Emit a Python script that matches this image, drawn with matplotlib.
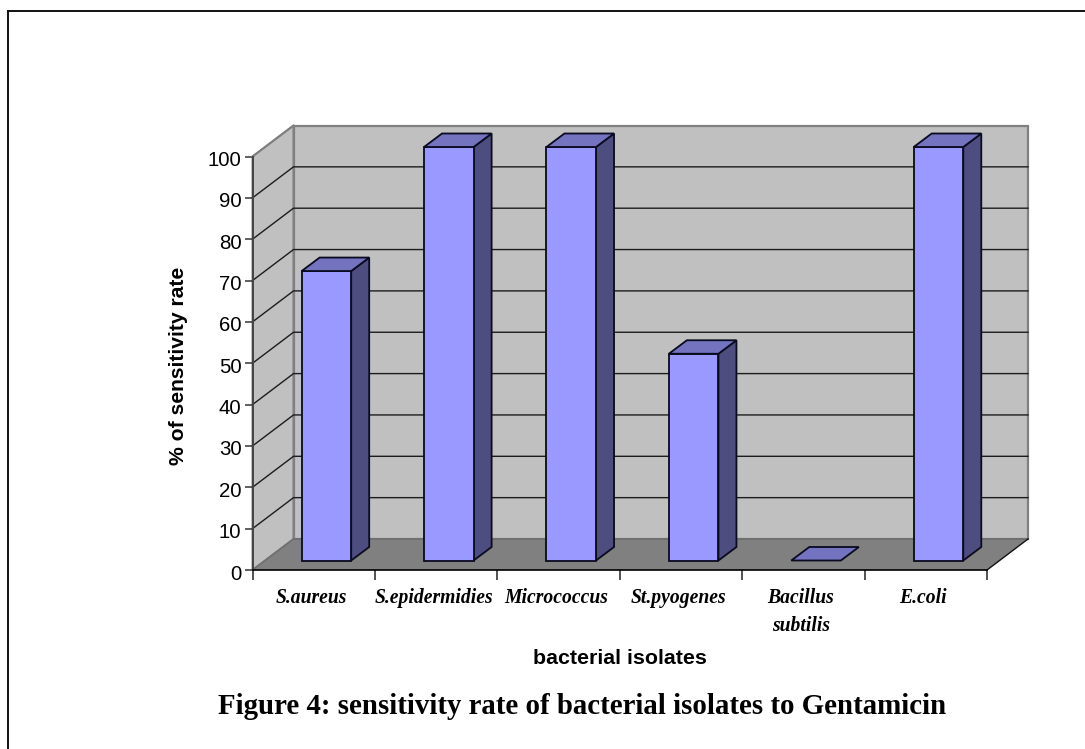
import matplotlib
matplotlib.use("Agg")
import matplotlib.pyplot as plt
from matplotlib.patches import Polygon
from matplotlib.transforms import Affine2D

categories = ["S.aureus", "S.epidermidies", "Micrococcus", "St.pyogenes", "Bacillus\nsubtilis", "E.coli"]
values = [70, 100, 100, 50, 0, 100]
y_ticks = list(range(0, 101, 10))

W, H = 1085, 749
fig = plt.figure(figsize=(W / 100, H / 100), dpi=100, facecolor="white")

# full-figure layer for the frame and figure caption
bg = fig.add_axes([0, 0, 1, 1])
bg.set_xlim(0, W)
bg.set_ylim(H, 0)
bg.axis("off")
bg.plot([8, 8], [H, 11], color="#111111", lw=1.4, solid_capstyle="projecting")
bg.plot([8, W], [11, 11], color="#111111", lw=1.4, solid_capstyle="projecting")
bg.text(582, 707, "Figure 4: sensitivity rate of bacterial isolates to Gentamicin",
        family="Liberation Serif", weight="bold", fontsize=20.8, ha="center", va="center", color="black")

# front plane of the 3-D box
L, R, T, B = 252.5, 987, 156.5, 570
ax = fig.add_axes([L / W, 1 - B / H, (R - L) / W, (B - T) / H], facecolor="none")
n = len(categories)
ax.set_xlim(0, n)
ax.set_ylim(0, 100)
for s in ax.spines.values():
    s.set_visible(False)

DX, DY = 41, 31          # box depth
BX, BY = 12.7, 9.5       # bar offset from front plane
SX, SY = 18, 13.5        # bar depth
BW = 0.405               # bar width in category units

wall = "#c0c0c0"
edge = "#808080"
side = [[0, 0, 0], [0, 100, 0], [0, 100, 1], [0, 0, 1]]


def pts(corners):
    """corners: (x, y, depth fraction) to display coordinates"""
    out = []
    for x, y, d in corners:
        px, py = ax.transData.transform((x, y))
        out.append((px + DX * d, py + DY * d))
    return out


def poly(corners, **kw):
    p = Polygon(pts(corners), closed=True, transform=None, clip_on=False, **kw)
    ax.add_patch(p)
    return p


poly(side, facecolor=wall, edgecolor=edge, lw=1.4, zorder=1)
poly([[0, 0, 1], [0, 100, 1], [n, 100, 1], [n, 0, 1]], facecolor=wall, edgecolor=edge, lw=1.6, zorder=1)
poly([[0, 0, 0], [n, 0, 0], [n, 0, 1], [0, 0, 1]], facecolor="#808080", edgecolor="none", zorder=2)

# gridlines on both walls
for v in y_ticks[1:-1]:
    ax.plot(*zip(*pts([[0, v, 0], [0, v, 1], [n, v, 1]])), transform=None, color="#1c1c1c",
            lw=1.0, clip_on=False, zorder=3, solid_joinstyle="miter")
# back edge of floor, outer edges
ax.plot(*zip(*pts([[0, 0, 0], [0, 0, 1]])), transform=None, color="#707070", lw=1.2, clip_on=False, zorder=3)
ax.plot(*zip(*pts([[0, 0, 1], [n, 0, 1]])), transform=None, color="#707070", lw=1.4, clip_on=False, zorder=3)
ax.plot(*zip(*pts([[n, 0, 0], [n, 0, 1]])), transform=None, color="#111111", lw=1.0, clip_on=False, zorder=3)
ax.plot(*zip(*pts([[0, 100, 0], [0, 100, 1]])), transform=None, color="#808080", lw=1.4, clip_on=False, zorder=3)

# bars
front_c, side_c, top_c = "#9999ff", "#4d4d80", "#7373bf"
for i, v in enumerate(values):
    x0, x1 = i + 0.5 - BW / 2, i + 0.5 + BW / 2
    a, b = ax.transData.transform((x0, 0)), ax.transData.transform((x1, v))
    xl, xr = a[0] + BX, b[0] + BX
    yb, yt = a[1] + BY, b[1] + BY
    style = dict(edgecolor="#0a0a20", lw=1.3, transform=None, clip_on=False, zorder=5 + i, joinstyle="miter")
    if v > 0:
        ax.add_patch(Polygon([(xr, yb), (xr + SX, yb + SY), (xr + SX, yt + SY), (xr, yt)], facecolor=side_c, **style))
        ax.add_patch(Polygon([(xl, yb), (xr, yb), (xr, yt), (xl, yt)], facecolor=front_c, **style))
    ax.add_patch(Polygon([(xl, yt), (xr, yt), (xr + SX, yt + SY), (xl + SX, yt + SY)], facecolor=top_c, **style))

# axes lines and ticks
ax.spines["left"].set_visible(True)
ax.spines["bottom"].set_visible(True)
ax.spines["left"].set_color("#444444")
ax.spines["left"].set_linewidth(1.4)
ax.spines["bottom"].set_color("#000000")
ax.spines["bottom"].set_linewidth(1.2)
ax.spines["left"].set_zorder(20)
ax.spines["bottom"].set_zorder(20)
ax.set_yticks(y_ticks)
ax.set_yticklabels([str(v) for v in y_ticks], family="Liberation Sans", fontsize=14.7)
ax.tick_params(axis="y", length=5.5, width=1.2, color="#444444", pad=2.5)
for lab in ax.get_yticklabels():
    lab.set_transform(lab.get_transform() + Affine2D().translate(0, -2))
ax.set_xticks(range(n + 1))
ax.set_xticklabels([""] * (n + 1))
ax.tick_params(axis="x", length=7, width=1.1, color="#222222")

ax.set_xticks([i + 0.5 - 0.02 for i in range(n)], minor=True)
ax.set_xticklabels(categories, minor=True, family="Liberation Serif", style="italic", weight="bold",
                   fontsize=14.1, linespacing=1.5, va="top")
ax.tick_params(axis="x", which="minor", length=0, pad=13)

bg.text(620, 658, "bacterial isolates", family="Liberation Sans", weight="bold", fontsize=15.4,
        ha="center", va="center")
bg.text(178, 366, "% of sensitivity rate", family="Liberation Sans", weight="bold", fontsize=15.2,
        rotation=90, ha="center", va="center")

fig.savefig("out.png", dpi=100, facecolor="white")
